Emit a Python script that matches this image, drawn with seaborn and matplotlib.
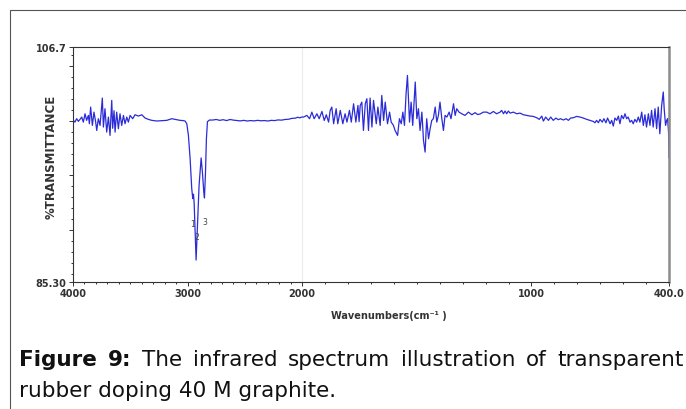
import numpy as np
import pandas as pd
import seaborn as sns
import matplotlib.pyplot as plt
from matplotlib.lines import Line2D
from matplotlib.ticker import FixedLocator, MultipleLocator

# spectrum, 4000 -> 2000 cm-1 (compressed half of the axis)
wn_high = [4000, 3997, 3983, 3968, 3953, 3939, 3924, 3910, 3895, 3881,
           3866, 3857, 3846, 3831, 3817, 3802, 3793, 3779, 3764, 3744,
           3735, 3721, 3706, 3691, 3677, 3662, 3654, 3642, 3633, 3619,
           3604, 3590, 3575, 3560, 3546, 3531, 3517, 3502, 3479, 3459,
           3429, 3400, 3371, 3342, 3313, 3269, 3226, 3182, 3138, 3109,
           3066, 3040, 3022, 3007, 2993, 2978, 2964, 2955, 2949, 2943,
           2934, 2926, 2914, 2900, 2882, 2871, 2859, 2853, 2844, 2836,
           2827, 2809, 2780, 2750, 2720, 2690, 2660, 2630, 2600, 2570,
           2540, 2510, 2480, 2450, 2420, 2390, 2360, 2330, 2300, 2270,
           2240, 2210, 2180, 2150, 2120, 2090, 2060, 2040, 2020, 2005]
t_high = [100.0, 100.02, 99.86, 100.17, 99.93, 100.11, 100.32, 99.86, 100.62, 100.02,
          100.47, 99.71, 101.23, 99.56, 100.77, 99.86, 99.10, 100.17, 99.56, 102.05,
          99.41, 101.08, 98.95, 100.32, 98.65, 101.84, 99.3, 100.9, 98.95, 100.77,
          99.26, 100.62, 99.56, 100.47, 99.71, 100.32, 99.86, 100.47, 100.17, 100.53,
          100.41, 100.53, 100.23, 100.11, 100.02, 99.96, 99.99, 100.02, 100.17, 100.11,
          100.02, 100.0, 99.96, 99.7, 98.65, 96.5, 93.8, 92.9, 93.3, 92.5,
          89.85, 87.3, 90.45, 94.1, 96.6, 95.3, 93.5, 92.95, 95.3, 98.35,
          99.9, 100.05, 100.05, 100.1, 100.02, 100.08, 100.0, 100.1, 100.04, 100.0,
          99.97, 100.02, 99.96, 100.0, 99.97, 100.02, 99.98, 100.0, 99.96, 100.02,
          100.0, 100.06, 100.04, 100.1, 100.12, 100.2, 100.22, 100.3, 100.25, 100.32]

# 2000 -> 400 cm-1
wn_low = [1994, 1980, 1968, 1958, 1948, 1936, 1926, 1914, 1904, 1895,
          1885, 1878, 1871, 1863, 1852, 1845, 1834, 1823, 1813, 1805,
          1794, 1786, 1776, 1766, 1757, 1752, 1747, 1740, 1733, 1725,
          1718, 1711, 1704, 1696, 1689, 1677, 1670, 1660, 1653, 1645,
          1638, 1628, 1619, 1612, 1602, 1595, 1584, 1576, 1568, 1561,
          1554, 1547, 1541, 1532, 1525, 1518, 1507, 1500, 1493, 1486,
          1478, 1471, 1464, 1457, 1449, 1442, 1435, 1428, 1420, 1413,
          1406, 1399, 1391, 1384, 1377, 1369, 1359, 1351, 1340, 1333,
          1326, 1316, 1304, 1290, 1275, 1260, 1246, 1235, 1224, 1210,
          1195, 1181, 1166, 1152, 1137, 1130, 1122, 1115, 1108, 1101,
          1093, 1079, 1064, 1050, 1035, 1021, 1006, 992, 977, 966,
          955, 948, 938, 926, 916, 905, 893, 883, 873, 861,
          849, 839, 829, 817, 803, 788, 774, 759, 745, 730,
          723, 716, 708, 701, 691, 684, 675, 668, 657, 650,
          643, 636, 628, 621, 614, 607, 599, 592, 585, 578,
          570, 563, 556, 549, 541, 534, 527, 519, 512, 505,
          498, 490, 483, 476, 469, 461, 454, 447, 440, 432,
          425, 421, 415, 410, 406, 402, 400]
t_low = [100.32, 100.47, 100.17, 100.77, 100.17, 100.62, 100.17, 100.83, 100.01, 100.53,
         99.86, 100.93, 101.23, 99.71, 101.08, 99.71, 100.93, 99.71, 100.62, 99.86,
         100.93, 99.86, 101.53, 99.86, 101.38, 99.9, 101.38, 101.68, 99.10, 101.53,
         101.99, 99.10, 102.05, 99.41, 101.84, 99.71, 101.23, 99.56, 102.29, 100.01,
         101.68, 99.71, 100.77, 99.86, 99.56, 99.10, 98.65, 100.17, 99.71, 100.77,
         99.56, 102.44, 104.11, 99.86, 101.68, 99.56, 103.51, 100.17, 101.08, 99.10,
         100.77, 98.19, 97.13, 100.17, 98.34, 99.26, 100.01, 100.17, 101.23, 99.86,
         100.47, 101.68, 100.17, 99.10, 100.47, 100.32, 100.77, 100.17, 101.53, 100.47,
         101.08, 100.77, 100.62, 100.47, 100.77, 100.53, 100.72, 100.55, 100.6, 100.77,
         100.77, 100.62, 100.83, 100.62, 100.77, 100.93, 100.62, 100.87, 100.62, 100.87,
         100.68, 100.77, 100.62, 100.68, 100.53, 100.47, 100.41, 100.38, 100.26, 100.11,
         100.41, 99.95, 100.32, 100.02, 100.32, 100.02, 100.23, 100.08, 100.17, 100.05,
         100.17, 100.02, 100.23, 100.26, 100.38, 100.32, 100.23, 100.11, 100.02, 99.92,
         99.80, 100.02, 99.80, 100.11, 99.86, 100.17, 99.80, 100.23, 99.71, 100.02,
         99.50, 100.23, 100.02, 100.41, 99.71, 100.47, 100.17, 100.62, 100.17, 100.32,
         99.86, 100.02, 99.71, 100.11, 99.86, 100.32, 99.86, 100.77, 99.56, 100.53,
         99.41, 100.62, 99.56, 100.93, 99.41, 101.08, 99.26, 101.23, 98.80, 101.38,
         102.60, 101.08, 99.56, 100.02, 100.17, 98.95, 96.6]

peak_names = ['1', '2', '3']
peak_wn = [2955, 2918, 2853]
peak_t = [90.6, 89.4, 90.8]

xtick_vals = [4000, 3000, 2000, 1000, 400]
xtick_text = ['4000', '3000', '2000', '1000', '400.0']
ytick_vals = [85.3, 90, 95, 100, 105, 106.7]
ytick_text = ['85.30', '', '', '', '', '106.7']

caption_1 = ['Figure', '9:', 'The', 'infrared', 'spectrum', 'illustration', 'of', 'transparent']
caption_2 = 'rubber doping 40 M graphite.'

df = pd.DataFrame({'wn': wn_high + wn_low, 'T': t_high + t_low})

sns.set_theme(style='white')
plt.rcParams['font.family'] = ['DejaVu Sans']

W, H = 686, 410
fig = plt.figure(figsize=(W / 100, H / 100), dpi=100)
ax = fig.add_axes([73 / W, 1 - 283 / H, 596 / W, 235 / H])

sns.lineplot(data=df, x='wn', y='T', ax=ax, color='#2b2bd8', lw=0.9,
             estimator=None, sort=False)

# FTIR style axis: above 2000 cm-1 at half scale
def fwd(w):
    w = np.asarray(w, dtype=float)
    return np.where(w > 2000, 2000 + (w - 2000) / 2, w)

def inv(p):
    p = np.asarray(p, dtype=float)
    return np.where(p > 2000, 2000 + (p - 2000) * 2, p)

ax.set_xscale('function', functions=(fwd, inv))
ax.set_xlim(4000, 400)
ax.set_ylim(85.3, 106.7)
ax.axvline(2000, color='#ececec', lw=0.8, zorder=0)

for name, w, t in zip(peak_names, peak_wn, peak_t):
    ax.text(w, t, name, fontsize=5.5, color='#444444', ha='center', va='center', zorder=5)

ax.xaxis.set_major_locator(FixedLocator(xtick_vals))
ax.xaxis.set_minor_locator(MultipleLocator(100))
ax.set_xticklabels(xtick_text)
ax.yaxis.set_major_locator(FixedLocator(ytick_vals))
ax.yaxis.set_minor_locator(MultipleLocator(1))
ax.set_yticklabels(ytick_text)

ax.tick_params(which='both', direction='out', color='#333333', width=0.7,
               bottom=True, left=True, top=False, right=False)
ax.tick_params(which='major', length=3, pad=1.5, labelsize=7, labelcolor='#333333')
ax.tick_params(which='minor', length=1.6)
for lab in ax.get_xticklabels() + ax.get_yticklabels():
    lab.set_fontweight('bold')

for side in ['left', 'bottom', 'top']:
    ax.spines[side].set_color('#333333')
    ax.spines[side].set_linewidth(0.8)
ax.spines['right'].set_color('#8c8c8c')
ax.spines['right'].set_linewidth(1.8)

ax.set_xlabel('Wavenumbers(cm\u207b\u00b9 )', fontsize=7, color='#333333', fontweight='bold')
ax.set_ylabel('%TRANSMITTANCE', fontsize=8.5, color='#333333', fontweight='bold')
ax.xaxis.set_label_coords((389 - 73) / 596, (283 - 311) / 235)
ax.yaxis.set_label_coords((58 - 73) / 596, (283 - 157) / 235)

# frame around figure + caption
fig.add_artist(Line2D([10 / W, 10 / W], [0, 1 - 11 / H], transform=fig.transFigure,
                      color='#555555', lw=0.8))
fig.add_artist(Line2D([10 / W, 1], [1 - 11 / H, 1 - 11 / H], transform=fig.transFigure,
                      color='#555555', lw=0.8))

# first caption line is justified: spread the words between the margins
words = []
for i, word in enumerate(caption_1):
    words.append(fig.text(0, 1 - 366 / H, word, fontsize=15.5,
                          fontweight='bold' if i < 2 else 'normal', color='#111111',
                          ha='left', va='baseline'))
fig.canvas.draw()
renderer = fig.canvas.get_renderer()
widths = [t.get_window_extent(renderer).width for t in words]
left, right = 19, 684
gap = (right - left - sum(widths)) / (len(words) - 1)
x = left
for t, wdt in zip(words, widths):
    t.set_x(x / W)
    x += wdt + gap

fig.text(19 / W, 1 - 397 / H, caption_2, fontsize=15.5, color='#111111',
         ha='left', va='baseline')

fig.savefig('out.png', dpi=100, facecolor='white')
